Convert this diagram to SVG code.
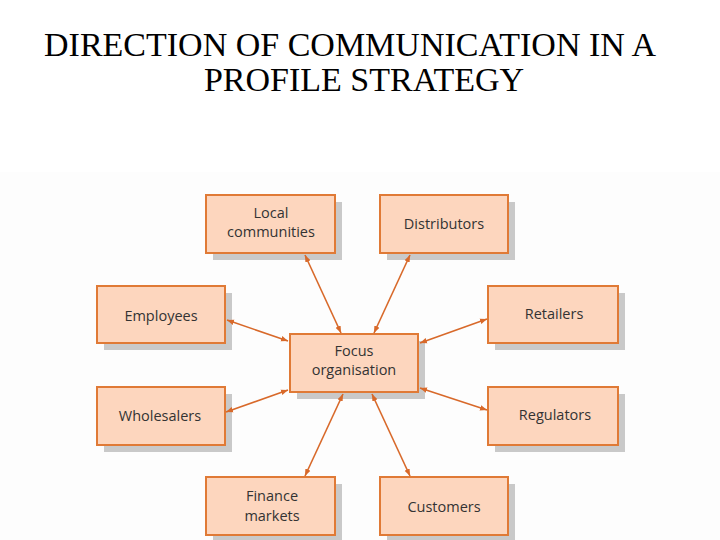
<svg xmlns="http://www.w3.org/2000/svg" width="720" height="540" viewBox="0 0 720 540">
<style>
.title{font-family:"Liberation Serif","Times New Roman",serif;font-size:34px;fill:#000}
.box{fill:#FDD6BE;stroke:#E07A36;stroke-width:2}
.sh{fill:#C9C9C9}
.lbl{font-family:"Open Sans","Liberation Sans",sans-serif;font-size:14.5px;fill:#333;text-anchor:middle}
.con{stroke:#D8692A;stroke-width:1.6;fill:none;marker-start:url(#ah);marker-end:url(#ah)}
</style>
<defs>
<marker id="ah" viewBox="0 0 10 10" refX="10" refY="5" markerWidth="7" markerHeight="7" orient="auto-start-reverse" markerUnits="userSpaceOnUse">
<path d="M0,1 L10,5 L0,9 Z" fill="#D8692A"/>
</marker>
</defs>
<rect x="0" y="0" width="720" height="540" fill="#fff"/>
<rect x="0" y="172" width="720" height="368" fill="#FDFDFD"/>
<text class="title" x="350" y="56" text-anchor="middle">DIRECTION OF COMMUNICATION IN A</text>
<text class="title" x="364" y="91" text-anchor="middle">PROFILE STRATEGY</text>

<g id="local"><rect class="sh" x="213" y="202" width="129" height="58"/><rect class="box" x="206" y="195" width="129" height="58"/><text class="lbl" x="271" y="218">Local</text><text class="lbl" x="271" y="237">communities</text></g>
<g id="distributors"><rect class="sh" x="387" y="202" width="128" height="58"/><rect class="box" x="380" y="195" width="128" height="58"/><text class="lbl" x="444" y="229">Distributors</text></g>
<g id="employees"><rect class="sh" x="104" y="293" width="128" height="57"/><rect class="box" x="97" y="286" width="128" height="57"/><text class="lbl" x="161" y="321">Employees</text></g>
<g id="retailers"><rect class="sh" x="495" y="293" width="130" height="57"/><rect class="box" x="488" y="286" width="130" height="57"/><text class="lbl" x="554" y="319">Retailers</text></g>
<g id="focus"><rect class="sh" x="297" y="341" width="128" height="58"/><rect class="box" x="290" y="334" width="128" height="58"/><text class="lbl" x="354" y="356">Focus</text><text class="lbl" x="354" y="375">organisation</text></g>
<g id="wholesalers"><rect class="sh" x="104" y="394" width="128" height="58"/><rect class="box" x="97" y="387" width="128" height="58"/><text class="lbl" x="160" y="421">Wholesalers</text></g>
<g id="regulators"><rect class="sh" x="495" y="394" width="130" height="58"/><rect class="box" x="488" y="387" width="130" height="58"/><text class="lbl" x="555" y="420">Regulators</text></g>
<g id="finance"><rect class="sh" x="213" y="484" width="129" height="58"/><rect class="box" x="206" y="477" width="129" height="58"/><text class="lbl" x="272" y="501">Finance</text><text class="lbl" x="272" y="521">markets</text></g>
<g id="customers"><rect class="sh" x="387" y="484" width="128" height="58"/><rect class="box" x="380" y="477" width="128" height="58"/><text class="lbl" x="444" y="512">Customers</text></g>

<g id="connectors">
<line class="con" x1="305" y1="255" x2="341" y2="333"/>
<line class="con" x1="410" y1="255" x2="374" y2="333"/>
<line class="con" x1="227" y1="320" x2="288" y2="341"/>
<line class="con" x1="226" y1="412" x2="288" y2="390"/>
<line class="con" x1="420" y1="343" x2="487" y2="319"/>
<line class="con" x1="420" y1="388" x2="487" y2="410"/>
<line class="con" x1="343" y1="394" x2="305" y2="476"/>
<line class="con" x1="372" y1="394" x2="410" y2="476"/>
</g>
</svg>
